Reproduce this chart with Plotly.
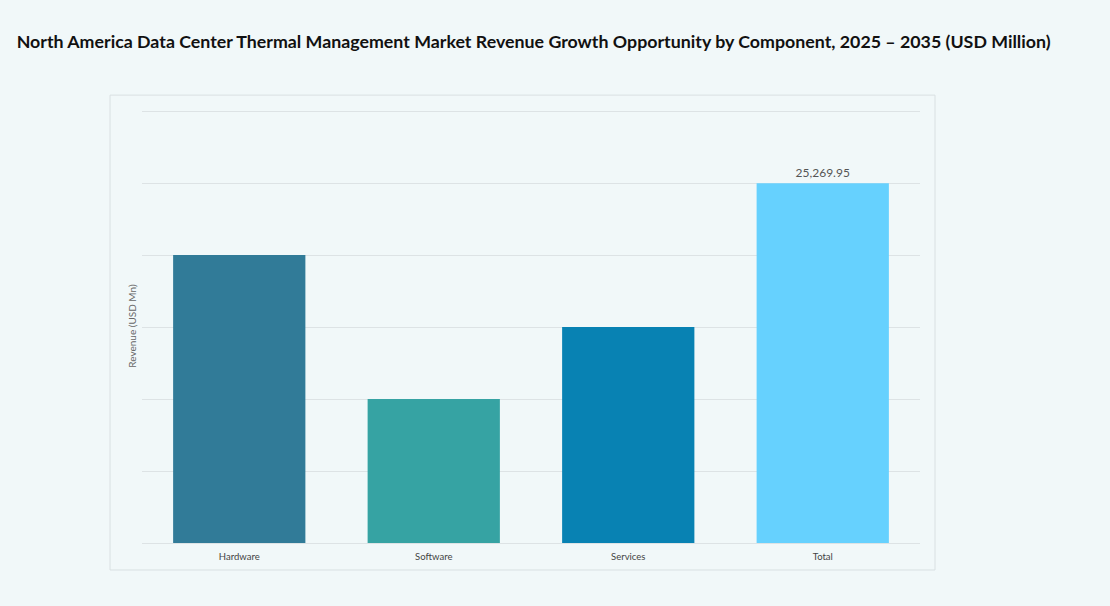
import plotly.graph_objects as go

# data (USD Mn)
components = ["Hardware", "Software", "Services", "Total"]
revenue = [20215.96, 10107.98, 15161.97, 25269.95]
bar_colors = ["#317b98", "#36a3a3", "#0882b3", "#66d1fe"]
bar_labels = ["", "", "", "25,269.95"]

STEP = 5053.99  # gridline spacing

fig = go.Figure()

fig.add_trace(go.Bar(
    x=components,
    y=revenue,
    marker=dict(color=bar_colors, line=dict(width=0)),
    width=0.68,
    text=bar_labels,
    textposition="outside",
    textfont=dict(family="Lato, sans-serif", size=12, color="#555555"),
    cliponaxis=False,
    hoverinfo="x+y",
))

# outer frame around the plot
fig.add_shape(
    type="rect", xref="paper", yref="paper",
    x0=-0.0411, x1=1.0193, y0=-0.0622, y1=1.032,
    line=dict(color="#d9e0e2", width=1),
    fillcolor="rgba(0,0,0,0)", layer="below",
)

fig.update_layout(
    width=1110,
    height=606,
    margin=dict(l=142, r=190, t=109, b=63),
    paper_bgcolor="#f1f8f9",
    plot_bgcolor="#f1f8f9",
    showlegend=False,
    title=dict(
        text="<b>North America Data Center Thermal Management Market Revenue Growth Opportunity by Component, 2025 \u2013 2035 (USD Million)</b>",
        x=0.015, xanchor="left",
        y=0.931, yanchor="middle",
        font=dict(family="Lato, sans-serif", size=17.8, color="#111111"),
    ),
    xaxis=dict(
        showgrid=False,
        showline=False,
        ticks="",
        ticklabelstandoff=6,
        tickfont=dict(family="Lato, sans-serif", size=9.5, color="#444444"),
    ),
    yaxis=dict(
        range=[0, 6.03 * STEP],
        tick0=0,
        dtick=STEP,
        showticklabels=False,
        showgrid=True,
        gridcolor="#dde3e5",
        gridwidth=1,
        zeroline=True,
        zerolinecolor="#dde3e5",
        zerolinewidth=1,
        title=dict(
            text="Revenue (USD Mn)",
            font=dict(family="Lato, sans-serif", size=10, color="#666666"),
            standoff=2,
        ),
    ),
)

fig.write_html(
    "out.html",
    config={"displayModeBar": False},
    post_script="document.body.style.margin='0';",
)
